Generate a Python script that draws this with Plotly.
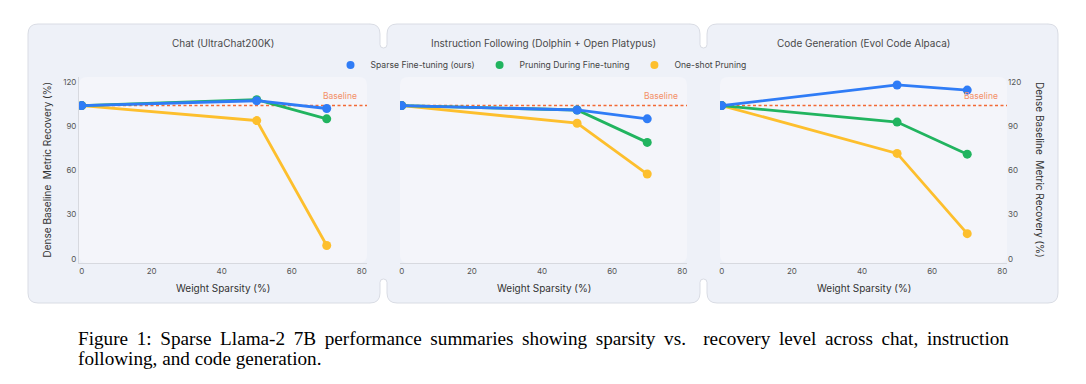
import plotly.graph_objects as go

W, H = 1086, 384

# ---------------- data ----------------
sparsity = [0, 50, 70]
baseline = 104

panel_titles = ["Chat (UltraChat200K)",
                "Instruction Following (Dolphin + Open Platypus)",
                "Code Generation (Evol Code Alpaca)"]

series_names = ["Sparse Fine-tuning (ours)", "Pruning During Fine-tuning", "One-shot Pruning"]
series_colors = ["#2f7cf6", "#21b45f", "#fdbf2d"]

chat_sparse = [104, 107.3, 102]
chat_pdf = [104, 108, 95]
chat_oneshot = [104, 93.8, 9]

inst_sparse = [104, 101, 95]
inst_pdf = [104, 101, 79]
inst_oneshot = [104, 92, 57.5]

code_sparse = [104, 118, 114.5]
code_pdf = [104, 92.8, 71]
code_oneshot = [104, 71.5, 17]

y_ticks = [0, 30, 60, 90, 120]
x_ticks = [0, 20, 40, 60, 80]

caption_1 = "Figure 1: Sparse Llama-2 7B performance summaries showing sparsity vs.  recovery level across chat, instruction"
caption_2 = "following, and code generation."

panels = [
    (chat_sparse, chat_pdf, chat_oneshot),
    (inst_sparse, inst_pdf, inst_oneshot),
    (code_sparse, code_pdf, code_oneshot),
]

# ---------------- layout geometry (pixels) ----------------
OFF = 8  # page body margin


def px(x):
    return (x - OFF) / W


def py(y):
    return 1 - (y - OFF) / H


plot_x = [(79, 367), (400, 687), (720, 1007)]
plot_y = (77, 263)
x_ranges = [[-0.771, 81.51], [-0.485, 81.34], [-0.485, 81.34]]
y_range = [-2.92, 123.4]

FONT = "Inter, 'DejaVu Sans', sans-serif"

fig = go.Figure()

# data traces (drawn order: one-shot, pdf, sparse so blue is on top)
for i, vals in enumerate(panels):
    ax = "" if i == 0 else str(i + 1)
    for k in [2, 1, 0]:
        fig.add_trace(go.Scatter(
            x=sparsity, y=vals[k], mode="lines+markers",
            line=dict(color=series_colors[k], width=2.8),
            marker=dict(color=series_colors[k], size=9),
            name=series_names[k], showlegend=False, hoverinfo="x+y",
            xaxis="x" + ax, yaxis="y" + ax,
        ))

# legend-only entries
for k in range(3):
    fig.add_trace(go.Scatter(
        x=[None], y=[None], mode="markers",
        marker=dict(color=series_colors[k], size=8),
        name=series_names[k], showlegend=True, xaxis="x", yaxis="y",
        legendrank=k + 1,
    ))

shapes = []


def to_path(P):
    s = ""
    for p in P:
        c = p[1:]
        s += p[0] + " ".join(f"{px(c[j]):.5f},{py(c[j+1]):.5f}" for j in range(0, len(c), 2)) + " "
    return s + "Z"


# panel background outline with notches
pts = [
    ("M", 38, 24), ("L", 370, 24), ("Q", 380, 24, 380, 34), ("L", 380, 44.5),
    ("Q", 380, 48, 383.5, 48), ("Q", 387, 48, 387, 44.5), ("L", 387, 34),
    ("Q", 387, 24, 397, 24), ("L", 690, 24), ("Q", 700, 24, 700, 34), ("L", 700, 44.5),
    ("Q", 700, 48, 703.5, 48), ("Q", 707, 48, 707, 44.5), ("L", 707, 34),
    ("Q", 707, 24, 717, 24), ("L", 1048, 24), ("Q", 1058, 24, 1058, 34),
    ("L", 1058, 293), ("Q", 1058, 303, 1048, 303), ("L", 717, 303),
    ("Q", 707, 303, 707, 293), ("L", 707, 282.5), ("Q", 707, 279, 703.5, 279),
    ("Q", 700, 279, 700, 282.5), ("L", 700, 293), ("Q", 700, 303, 690, 303),
    ("L", 397, 303), ("Q", 387, 303, 387, 293), ("L", 387, 282.5),
    ("Q", 387, 279, 383.5, 279), ("Q", 380, 279, 380, 282.5), ("L", 380, 293),
    ("Q", 380, 303, 370, 303), ("L", 38, 303), ("Q", 28, 303, 28, 293),
    ("L", 28, 34), ("Q", 28, 24, 38, 24),
]
shapes.append(dict(type="path", path=to_path(pts), xref="paper", yref="paper",
                   fillcolor="#eef1f8", line=dict(color="#d9dce4", width=1), layer="below"))


def rrect(x0, y0, x1, y1, r):
    return to_path([("M", x0 + r, y0), ("L", x1 - r, y0), ("Q", x1, y0, x1, y0 + r), ("L", x1, y1 - r),
                    ("Q", x1, y1, x1 - r, y1), ("L", x0 + r, y1), ("Q", x0, y1, x0, y1 - r),
                    ("L", x0, y0 + r), ("Q", x0, y0, x0 + r, y0)])


for (x0, x1) in plot_x:
    shapes.append(dict(type="path", path=rrect(x0, plot_y[0], x1, plot_y[1], 8),
                       xref="paper", yref="paper", fillcolor="#f4f5fa",
                       line=dict(width=0), layer="below"))

annotations = []
for i in range(3):
    ax = "" if i == 0 else str(i + 1)
    shapes.append(dict(type="line", xref=("x" + ax + " domain"), yref="y" + ax,
                       x0=0, x1=1, y0=baseline, y1=baseline,
                       line=dict(color="#f26a35", width=1.4, dash="3px,2.5px"), layer="below"))
    annotations.append(dict(text="Baseline", x=79.3, y=baseline + 1.5, xref="x" + ax, yref="y" + ax,
                            xanchor="right", yanchor="bottom", showarrow=False,
                            font=dict(family=FONT, size=8.5, color="#f39068")))
    x0, x1 = plot_x[i]
    cx = (x0 + x1) / 2
    annotations.append(dict(text=panel_titles[i], x=px(cx if i != 1 else 543), y=py(43),
                            xref="paper", yref="paper", xanchor="center", yanchor="middle",
                            showarrow=False, font=dict(family=FONT, size=10, color="#4a4a4a")))
    annotations.append(dict(text="Weight Sparsity (%)", x=px(cx), y=py(288),
                            xref="paper", yref="paper", xanchor="center", yanchor="middle",
                            showarrow=False, font=dict(family=FONT, size=10, color="#333333")))

ytitle = "Dense Baseline\u00a0\u00a0Metric Recovery (%)"
annotations.append(dict(text=ytitle, x=px(46.5), y=py(170), xref="paper", yref="paper",
                        xanchor="center", yanchor="middle", textangle=-90, showarrow=False,
                        font=dict(family=FONT, size=10, color="#333333")))
annotations.append(dict(text=ytitle, x=px(1040), y=py(170), xref="paper", yref="paper",
                        xanchor="center", yanchor="middle", textangle=90, showarrow=False,
                        font=dict(family=FONT, size=10, color="#333333")))

# caption (first line justified with thin spaces, like the LaTeX source)
CAP = "'Liberation Serif', 'Times New Roman', serif"
cap1_just = caption_1.replace(" ", " \u2009")
annotations.append(dict(text=cap1_just, x=px(76), y=py(350.5), xref="paper", yref="paper",
                        xanchor="left", yanchor="bottom", showarrow=False,
                        font=dict(family=CAP, size=19.2, color="#000000")))
annotations.append(dict(text=caption_2, x=px(76), y=py(370.5), xref="paper", yref="paper",
                        xanchor="left", yanchor="bottom", showarrow=False,
                        font=dict(family=CAP, size=19.2, color="#000000")))

layout = dict(
    width=W, height=H,
    margin=dict(l=0, r=0, t=0, b=0),
    paper_bgcolor="white", plot_bgcolor="rgba(0,0,0,0)",
    font=dict(family=FONT, size=8, color="#555555"),
    showlegend=True,
    legend=dict(orientation="h", x=px(541), y=py(65), xanchor="center", yanchor="middle",
                font=dict(family=FONT, size=8.6, color="#444444"), bgcolor="rgba(0,0,0,0)",
                itemwidth=30, tracegroupgap=0),
    shapes=shapes, annotations=annotations,
)

for i in range(3):
    sx = "" if i == 0 else str(i + 1)
    x0, x1 = plot_x[i]
    layout["xaxis" + sx] = dict(
        domain=[px(x0), px(x1)], range=x_ranges[i], tickvals=x_ticks,
        showgrid=False, zeroline=False, showline=True, linecolor="#d7d9df", linewidth=1,
        ticks="", tickfont=dict(family=FONT, size=8, color="#555555"),
        anchor="y" + sx, fixedrange=True,
    )
    ydict = dict(
        domain=[py(plot_y[1]), py(plot_y[0])], range=y_range, tickvals=y_ticks,
        showgrid=False, zeroline=False, ticks="",
        tickfont=dict(family=FONT, size=8, color="#555555"),
        anchor="x" + sx, fixedrange=True,
    )
    if i == 0:
        ydict.update(showline=True, linecolor="#d7d9df", linewidth=1, side="left")
    elif i == 1:
        ydict.update(showline=False, showticklabels=False)
    else:
        ydict.update(showline=False, side="right")
    layout["yaxis" + sx] = ydict

fig.update_layout(**layout)
fig.write_html("out.html")
